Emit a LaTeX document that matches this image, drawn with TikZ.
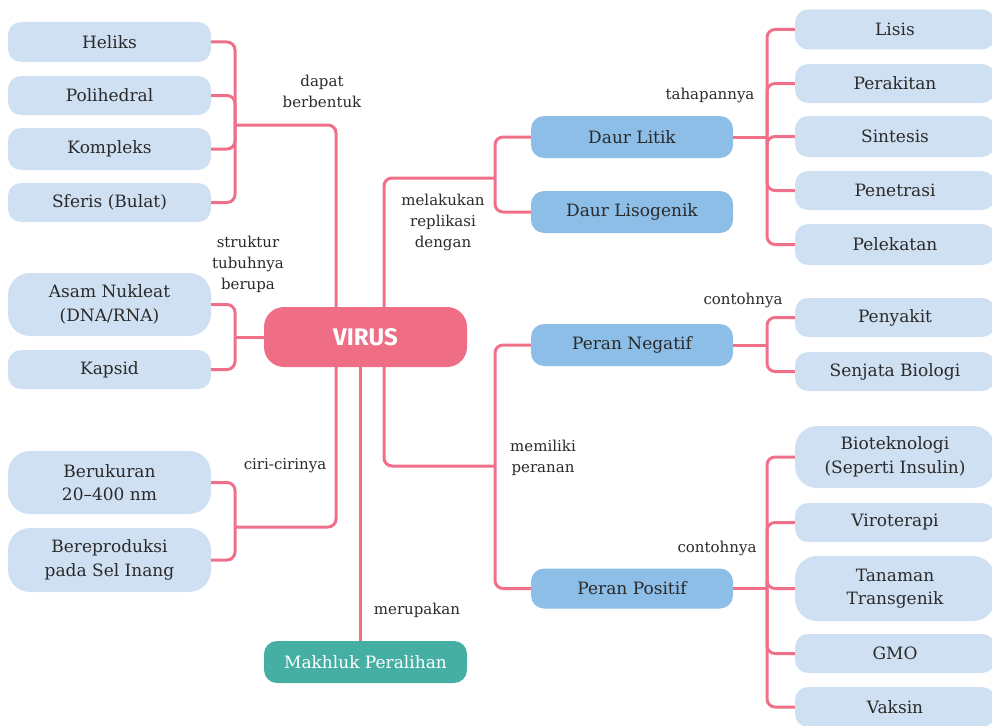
\documentclass[tikz,border=0pt]{standalone}
\usepackage{fontspec}
\setmainfont{DejaVu Serif}
\newfontfamily\virusfont{Fira Sans}
\usepackage{tikz}
\usetikzlibrary{calc,positioning}
\definecolor{leafblue}{HTML}{CFE0F3}
\definecolor{midblue}{HTML}{8CBEE7}
\definecolor{linkred}{HTML}{F0708A}
\definecolor{virusred}{HTML}{F06D86}
\definecolor{tealbox}{HTML}{45AFA4}
\definecolor{textgray}{HTML}{2A2A2A}

\begin{document}
\begin{tikzpicture}[x=1pt,y=-1pt,
            every node/.style = {align=center, text=textgray, inner sep=0pt},
            box/.style = {rounded corners=13pt, minimum width=203pt, minimum height=40pt,
                          font=\fontsize{17}{23.5}\selectfont},
            leaf/.style = {box, fill=leafblue},
            mid/.style = {box, fill=midblue, minimum width=202pt, minimum height=42pt},
            rightleaf/.style = {leaf, minimum width=200pt},
            tag/.style = {font=\fontsize{15}{21}\selectfont},
            link/.style = {draw=linkred, line width=3pt, rounded corners=8pt}
            ]
            \useasboundingbox (0,0) rectangle (992,725);
            \clip (0,0) rectangle (992,725);

            \node[box, fill=virusred, minimum height=60pt, rounded corners=20pt,
                  text=white, font=\virusfont\bfseries\fontsize{24}{28}\selectfont] (virus) at (365.5,337) {VIRUS};
            \node[box, fill=tealbox, minimum height=42pt, text=white] (makhluk) at (365.5,662) {Makhluk Peralihan};

            \node[leaf] (heliks) at (109.5,42) {Heliks};
            \node[leaf, minimum height=39pt] (polihedral) at (109.5,95.5) {Polihedral};
            \node[leaf, minimum height=42pt] (kompleks) at (109.5,149) {Kompleks};
            \node[leaf, minimum height=39pt] (sferis) at (109.5,202.5) {Sferis (Bulat)};
            \node[leaf, minimum height=63pt, rounded corners=22pt] (asam) at (109.5,304.5) {Asam Nukleat\\(DNA/RNA)};
            \node[leaf, minimum height=39pt] (kapsid) at (109.5,369.5) {Kapsid};
            \node[leaf, minimum height=63pt, rounded corners=22pt] (ukuran) at (109.5,482.5) {Berukuran\\20--400 nm};
            \node[leaf, minimum height=64pt, rounded corners=22pt] (reproduksi) at (109.5,560) {Bereproduksi\\pada Sel Inang};

            \node[mid] (litik) at (632,137) {Daur Litik};
            \node[mid] (lisogenik) at (632,212) {Daur Lisogenik};
            \node[mid] (negatif) at (632,345) {Peran Negatif};
            \node[mid, minimum height=40pt] (positif) at (632,588.5) {Peran Positif};

            \node[rightleaf] (lisis) at (895,29.5) {Lisis};
            \node[rightleaf, minimum height=39pt] (perakitan) at (895,83.5) {Perakitan};
            \node[rightleaf, minimum height=41pt] (sintesis) at (895,136.5) {Sintesis};
            \node[rightleaf, minimum height=39pt] (penetrasi) at (895,190.5) {Penetrasi};
            \node[rightleaf, minimum height=41pt] (pelekatan) at (895,244.5) {Pelekatan};
            \node[rightleaf, minimum height=39pt] (penyakit) at (895,317.5) {Penyakit};
            \node[rightleaf, minimum height=39pt] (senjata) at (895,371.5) {Senjata Biologi};
            \node[rightleaf, minimum height=62pt, rounded corners=22pt] (bioteknologi) at (895,457) {Bioteknologi\\(Seperti Insulin)};
            \node[rightleaf, minimum height=39pt] (viroterapi) at (895,522.5) {Viroterapi};
            \node[rightleaf, minimum height=65pt, rounded corners=22pt] (tanaman) at (895,588.5) {Tanaman\\Transgenik};
            \node[rightleaf, minimum height=39pt] (gmo) at (895,653.5) {GMO};
            \node[rightleaf] (vaksin) at (895,707) {Vaksin};

            \coordinate (jbentuk) at (235,125);
            \coordinate (jtubuh) at (235,337);
            \coordinate (jciri) at (235,527);
            \coordinate (jreplikasi) at (495,178);
            \coordinate (jperan) at (495,466);
            \coordinate (jtahap) at (767,137);
            \coordinate (jnegatif) at (767,345);
            \coordinate (jpositif) at (767,588.5);

            \draw[link] ([xshift=-29.5pt]virus.north) |- (jbentuk);
            \foreach \n in {heliks,polihedral,kompleks,sferis}
                \draw[link] (jbentuk) |- (\n.east);
            \draw[link] (virus.west) -- (jtubuh);
            \foreach \n in {asam,kapsid}
                \draw[link] (jtubuh) |- (\n.east);
            \draw[link] ([xshift=-29.5pt]virus.south) |- (jciri);
            \foreach \n in {ukuran,reproduksi}
                \draw[link] (jciri) |- (\n.east);
            \draw[link] ([xshift=-5.5pt]virus.south) -- ([xshift=-5.5pt]makhluk.north);

            \draw[link] ([xshift=18.5pt]virus.north) |- (jreplikasi);
            \foreach \n in {litik,lisogenik}
                \draw[link] (jreplikasi) |- (\n.west);
            \draw[link] (litik.east) -- (jtahap);
            \foreach \n in {lisis,perakitan,sintesis,penetrasi,pelekatan}
                \draw[link] (jtahap) |- (\n.west);

            \draw[link] ([xshift=18.5pt]virus.south) |- (jperan);
            \foreach \n in {negatif,positif}
                \draw[link] (jperan) |- (\n.west);
            \draw[link] (negatif.east) -- (jnegatif);
            \foreach \n in {penyakit,senjata}
                \draw[link] (jnegatif) |- (\n.west);
            \draw[link] (positif.east) -- (jpositif);
            \foreach \n in {bioteknologi,viroterapi,tanaman,gmo,vaksin}
                \draw[link] (jpositif) |- (\n.west);

            \node[tag] (lbentuk) at (322,91) {dapat\\berbentuk};
            \node[tag] (ltubuh) at (248,264) {struktur\\tubuhnya\\berupa};
            \node[tag] (lciri) at (285,466) {ciri-cirinya};
            \node[tag] (lmerupakan) at (417,610) {merupakan};
            \node[tag] (lreplikasi) at (443,222) {melakukan\\replikasi\\dengan};
            \node[tag] (ltahap) at (710,95) {tahapannya};
            \node[tag] (lnegatif) at (743,300) {contohnya};
            \node[tag] (lperan) at (543,458) {memiliki\\peranan};
            \node[tag] (lpositif) at (717,548) {contohnya};
\end{tikzpicture}
\end{document}
